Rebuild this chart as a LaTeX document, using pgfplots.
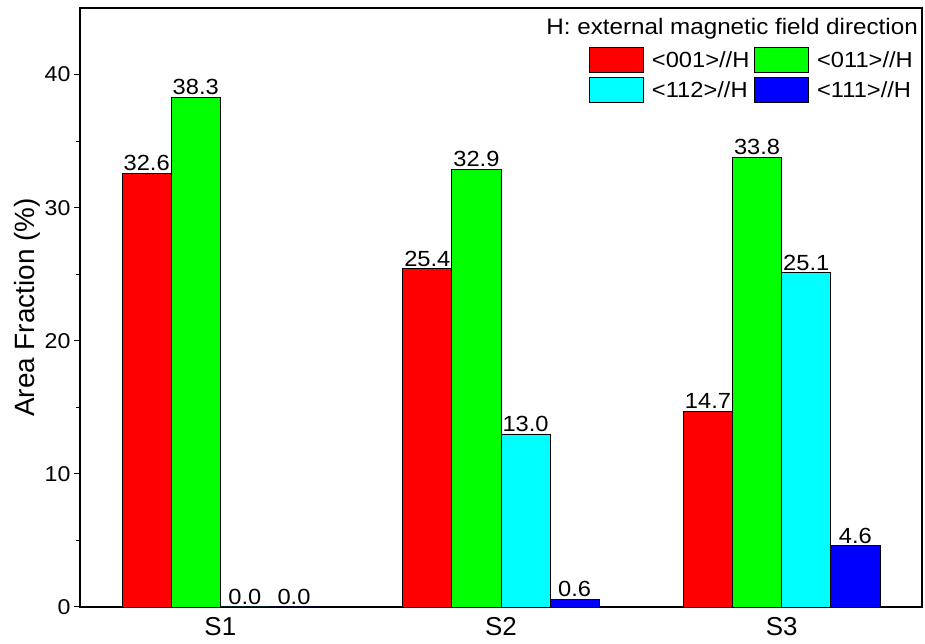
\documentclass[border=0pt]{standalone}
\usepackage{pgfplots}
\pgfplotsset{compat=1.18}
\usepackage{fontspec}
\setmainfont{Liberation Sans}[FakeStretch=1.08]
\newfontfamily\plainsf{Liberation Sans}
\definecolor{cR}{RGB}{255,0,0}
\definecolor{cG}{RGB}{0,255,0}
\definecolor{cC}{RGB}{0,255,255}
\definecolor{cB}{RGB}{0,0,255}
\begin{document}
\begin{tikzpicture}
\begin{axis}[
  scale only axis, width=842bp, height=599bp,
  xmin=-0.5, xmax=2.5, ymin=0, ymax=45,
  ybar=0pt, bar width=0.175,
  xtick={0,1,2}, xticklabels={S1,S2,S3},
  x tick label style={font=\plainsf\fontsize{26}{30}\selectfont, yshift=-1bp},
  major x tick style={draw=none},
  ytick={0,10,20,30,40}, minor ytick={5,15,25,35},
  ytick pos=left, tick align=outside,
  major tick length=6bp, minor tick length=4bp,
  y tick label style={font=\fontsize{21.5}{24}\selectfont},
  /pgf/number format/assume math mode=true,
  ylabel={Area Fraction (\%)},
  ylabel style={font=\plainsf\fontsize{28}{32}\selectfont, yshift=-2bp},
  axis line style={line width=1.4bp},
  every tick/.style={black, line width=1bp},
  nodes near coords={\pgfmathprintnumber[fixed,fixed zerofill,precision=1]{\pgfplotspointmeta}},
  every node near coord/.append style={font=\fontsize{22}{24}\selectfont, black, inner sep=2bp},
  legend columns=2,
  legend cell align=left,
  legend image code/.code={\draw[#1] (0bp,-12.5bp) rectangle (54bp,12.5bp);},
  legend style={draw=none, fill=none, at={(1,1)}, anchor=north east, xshift=-1bp, yshift=-39bp,
    font=\fontsize{22}{24}\selectfont, inner sep=0pt, row sep=4bp,
    nodes={inner xsep=8bp, inner ysep=1bp},
    /tikz/every even column/.append style={column sep=-3bp}},
]
\addplot[fill=cR, draw=black, line width=0.8bp, bar shift=-0.2625] coordinates {(0,32.6) (1,25.4) (2,14.7)};
\addplot[fill=cG, draw=black, line width=0.8bp, bar shift=-0.0875] coordinates {(0,38.3) (1,32.9) (2,33.8)};
\addplot[fill=cC, draw=black, line width=0.8bp, bar shift=0.0875] coordinates {(0,0.0) (1,13.0) (2,25.1)};
\addplot[fill=cB, draw=black, line width=0.8bp, bar shift=0.2625] coordinates {(0,0.0) (1,0.6) (2,4.6)};
\legend{{<001>//H},{<011>//H},{<112>//H},{<111>//H}}
\node[anchor=north east, font=\fontsize{22.5}{24}\selectfont, inner sep=0pt] at (rel axis cs:1,1) [xshift=-4bp, yshift=-10bp] {H: external magnetic field direction};
\end{axis}
\path ([xshift=-80bp,yshift=-37bp]current axis.south west) rectangle ([xshift=3bp,yshift=8bp]current axis.north east);
\end{tikzpicture}
\end{document}
